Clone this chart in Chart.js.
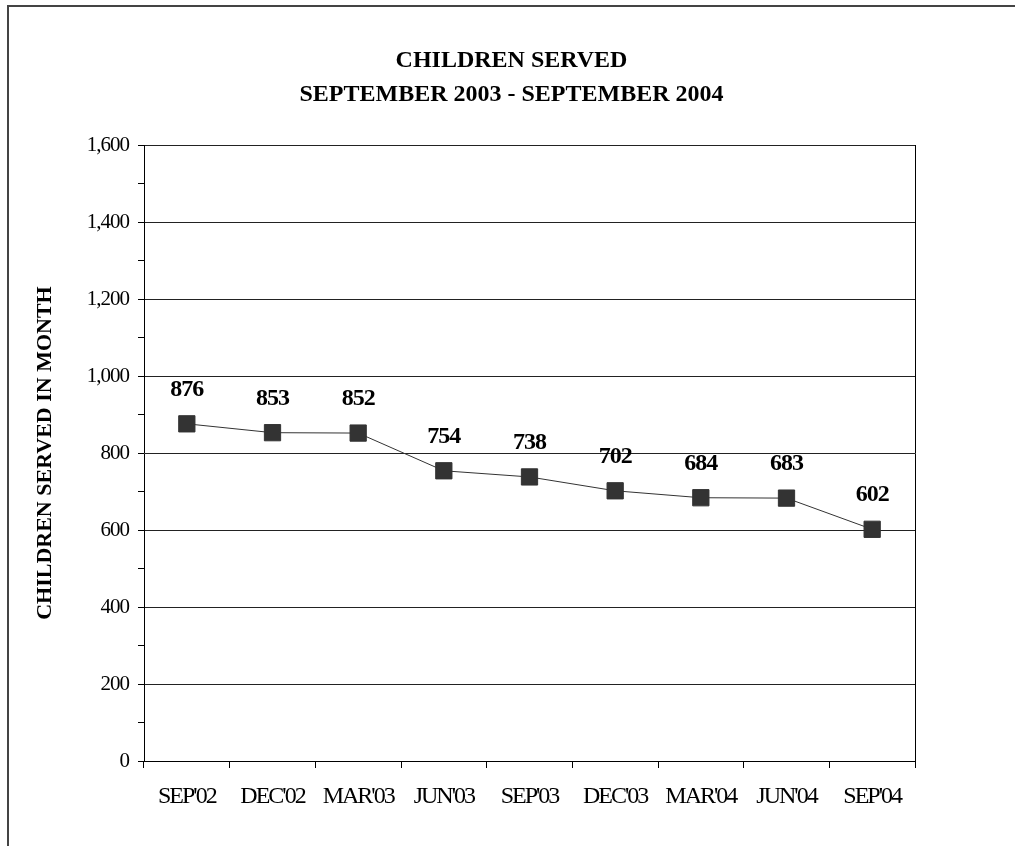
<!DOCTYPE html>
<html>
<head>
<meta charset="utf-8">
<script src="https://cdn.jsdelivr.net/npm/chart.js@4/dist/chart.umd.min.js"></script>
<style>
  html, body { margin: 0; padding: 0; background: #fff; overflow: hidden; }
  #frame { position: absolute; left: 7px; top: 5px; right: -10px; bottom: -10px;
           border-left: 2px solid #444; border-top: 2px solid #444; }
  #c { position: absolute; left: 0; top: 0; }
</style>
</head>
<body>
<div id="frame"></div>
<canvas id="c" width="1015" height="846"></canvas>
<script>
const categories = ["SEP'02", "DEC'02", "MAR'03", "JUN'03", "SEP'03", "DEC'03", "MAR'04", "JUN'04", "SEP'04"];
const childrenServed = [876, 853, 852, 754, 738, 702, 684, 683, 602];
const titleLines = ["CHILDREN SERVED", "SEPTEMBER 2003 - SEPTEMBER 2004"];
const yAxisTitle = "CHILDREN SERVED IN MONTH";

const SERIF = "'Liberation Serif', 'Times New Roman', serif";

// the original's tick text is squeezed, so tighten the letters of the axis labels
const tightLabels = {
    id: 'tightLabels',
    beforeDraw(chart) {
        const spacing = {x: '-2px', y: '-1px'};
        Object.keys(spacing).forEach((id) => {
            const s = chart.scales[id];
            if (!s || s._tight) return;
            const orig = s.drawLabels.bind(s);
            s.drawLabels = function (area) {
                const ctx = chart.ctx;
                ctx.save();
                ctx.letterSpacing = spacing[id];
                orig(area);
                ctx.restore();
            };
            s._tight = true;
        });
    }
};

// draws the bold value above each marker
const valueLabels = {
    id: 'valueLabels',
    afterDatasetsDraw(chart) {
        const ctx = chart.ctx;
        const meta = chart.getDatasetMeta(0);
        ctx.save();
        ctx.font = "bold 24px " + SERIF;
        ctx.letterSpacing = '-1px';
        ctx.fillStyle = '#000';
        ctx.textAlign = 'center';
        ctx.textBaseline = 'alphabetic';
        meta.data.forEach((pt, i) => {
            ctx.fillText(String(childrenServed[i]), pt.x, pt.y - 28);
        });
        ctx.restore();
    }
};

new Chart(document.getElementById('c'), {
    type: 'line',
    data: {
        labels: categories,
        datasets: [{
            data: childrenServed,
            borderColor: '#333',
            borderWidth: 1,
            backgroundColor: '#333',
            pointStyle: 'rect',
            pointRadius: 11.5,
            pointBorderWidth: 1,
            pointBorderColor: '#333',
            pointBackgroundColor: '#333',
            tension: 0
        }]
    },
    options: {
        responsive: false,
        devicePixelRatio: 1,
        animation: false,
        layout: {padding: {left: 8, right: 0, top: 0, bottom: 0}},
        plugins: {
            legend: {display: false},
            tooltip: {enabled: false},
            title: {
                display: true,
                text: titleLines,
                color: '#000',
                font: {family: SERIF, size: 24, weight: 'bold', lineHeight: 1.42},
                padding: {top: 44, bottom: 33}
            }
        },
        scales: {
            x: {
                offset: true,
                grid: {offset: true, drawOnChartArea: false, tickLength: 7, tickColor: '#000'},
                border: {color: '#000', width: 1},
                ticks: {
                    color: '#000',
                    font: {family: SERIF, size: 24},
                    padding: 14,
                    autoSkip: false,
                    maxRotation: 0,
                    minRotation: 0
                },
                afterFit: (s) => { s.height = 85; }
            },
            y: {
                min: 0,
                max: 1600,
                ticks: {
                    stepSize: 100,
                    autoSkip: false,
                    color: '#000',
                    padding: 9,
                    font: {family: SERIF, size: 21},
                    callback: (v) => (v % 200 === 0 ? v.toLocaleString('en-US') : '')
                },
                grid: {
                    color: (c) => (c.tick && c.tick.value % 200 === 0 ? '#222' : 'rgba(0,0,0,0)'),
                    tickColor: '#000',
                    tickLength: 6,
                    lineWidth: 1
                },
                border: {color: '#000', width: 1},
                title: {
                    display: true,
                    text: yAxisTitle,
                    color: '#000',
                    font: {family: SERIF, size: 22, weight: 'bold'},
                    padding: {top: 24, bottom: 0}
                },
                afterFit: (s) => { s.width = 136; }
            },
            y2: {
                position: 'right',
                min: 0,
                max: 1600,
                ticks: {display: false},
                grid: {display: false},
                border: {display: true, color: '#000', width: 1},
                afterFit: (s) => { s.width = 100; }
            }
        }
    },
    plugins: [tightLabels, valueLabels]
});
</script>
</body>
</html>
